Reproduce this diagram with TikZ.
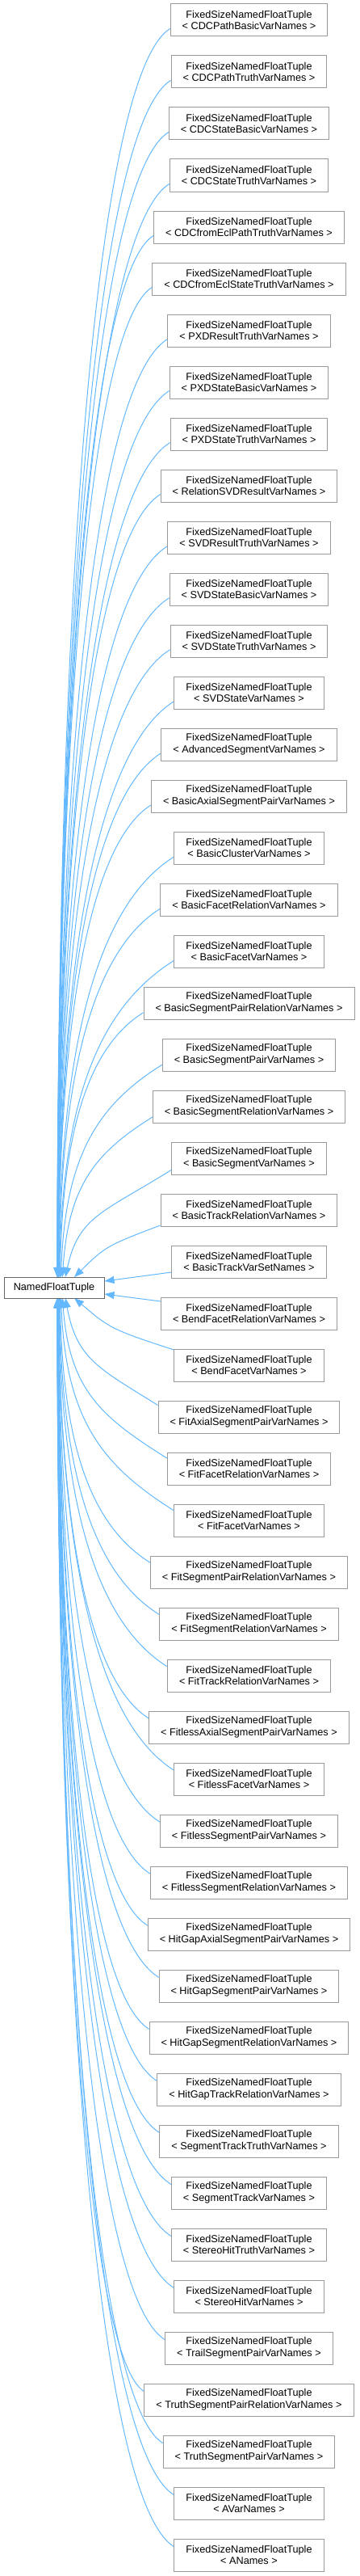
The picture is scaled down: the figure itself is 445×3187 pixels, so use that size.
\documentclass[tikz,border=0pt]{standalone}
\usepackage{fontspec}
\setmainfont{Liberation Sans}
\usetikzlibrary{arrows.meta,backgrounds,calc}
\definecolor{edgeblue}{HTML}{63B8FF}
\definecolor{boxgray}{HTML}{999999}
\definecolor{rootgray}{HTML}{666666}
\begin{document}
\begin{tikzpicture}[x=1pt,y=1pt,
  cls/.style={draw=boxgray, fill=white, line width=1pt, align=center,
    inner xsep=14.5pt, inner ysep=2pt, minimum height=40pt,
    font=\fontsize{12.7}{14.7}\selectfont},
  root/.style={draw=rootgray, fill=white, line width=1pt,
    inner xsep=11pt, minimum width=124pt, minimum height=26pt,
    font=\fontsize{12.7}{14.7}\selectfont},
  inh/.style={draw=edgeblue, line width=1pt, {Triangle[length=12pt,width=9pt]}-}]
\useasboundingbox (0,0) rectangle (445,-3187);
\node[root] (p) at (67,-1593) {NamedFloatTuple};
\foreach \nm [count=\k] in {CDCPathBasicVarNames,CDCPathTruthVarNames,CDCStateBasicVarNames,CDCStateTruthVarNames,CDCfromEclPathTruthVarNames,CDCfromEclStateTruthVarNames,PXDResultTruthVarNames,PXDStateBasicVarNames,PXDStateTruthVarNames,RelationSVDResultVarNames,SVDResultTruthVarNames,SVDStateBasicVarNames,SVDStateTruthVarNames,SVDStateVarNames,AdvancedSegmentVarNames,BasicAxialSegmentPairVarNames,BasicClusterVarNames,BasicFacetRelationVarNames,BasicFacetVarNames,BasicSegmentPairRelationVarNames,BasicSegmentPairVarNames,BasicSegmentRelationVarNames,BasicSegmentVarNames,BasicTrackRelationVarNames,BasicTrackVarSetNames,BendFacetRelationVarNames,BendFacetVarNames,FitAxialSegmentPairVarNames,FitFacetRelationVarNames,FitFacetVarNames,FitSegmentPairRelationVarNames,FitSegmentRelationVarNames,FitTrackRelationVarNames,FitlessAxialSegmentPairVarNames,FitlessFacetVarNames,FitlessSegmentPairVarNames,FitlessSegmentRelationVarNames,HitGapAxialSegmentPairVarNames,HitGapSegmentPairVarNames,HitGapSegmentRelationVarNames,HitGapTrackRelationVarNames,SegmentTrackTruthVarNames,SegmentTrackVarNames,StereoHitTruthVarNames,StereoHitVarNames,TrailSegmentPairVarNames,TruthSegmentPairRelationVarNames,TruthSegmentPairVarNames,AVarNames,ANames}{
  \node[cls] (c\k) at (308.5,{-(25+64*(\k-1))}) {FixedSizeNamedFloatTuple\\< \nm\ >};
}
\begin{scope}[on background layer]
\foreach \k in {1,...,24}{
  \pgfmathsetmacro\dd{25-\k}
  \pgfmathsetmacro\xp{70+22/\dd}
  \pgfmathsetmacro\off{10+9/\dd}
  \pgfmathsetmacro\aa{0.35/(\dd^1.5)}
  \draw[inh] let \p1=(c\k.west), \n1={\x1-\xp pt}, \n2={1580pt+\y1-\off pt},
    \n3={min(0.4*\n1,0.4*\n2)} in
    (\xp,-1580) .. controls ({\xp pt+\aa*\n1},{-1580pt+0.57*\n2})
    and ({\x1-0.64*\n1},{\y1-\off pt-\n3}) .. (\x1,{\y1-\off pt});
}
\foreach \k in {27,...,50}{
  \pgfmathsetmacro\dd{\k-26}
  \pgfmathsetmacro\xp{70+22/\dd}
  \pgfmathsetmacro\off{10+9/\dd}
  \pgfmathsetmacro\aa{0.35/(\dd^1.5)}
  \draw[inh] let \p1=(c\k.west), \n1={\x1-\xp pt}, \n2={-1606pt-\y1-\off pt},
    \n3={min(0.4*\n1,0.4*\n2)} in
    (\xp,-1606) .. controls ({\xp pt+\aa*\n1},{-1606pt-0.57*\n2})
    and ({\x1-0.64*\n1},{\y1+\off pt+\n3}) .. (\x1,{\y1+\off pt});
}
\draw[inh] (p.east |- 0,-1585) -- (c25.west |- 0,-1574);
\draw[inh] (p.east |- 0,-1601) -- (c26.west |- 0,-1610);
\end{scope}
\end{tikzpicture}
\end{document}
